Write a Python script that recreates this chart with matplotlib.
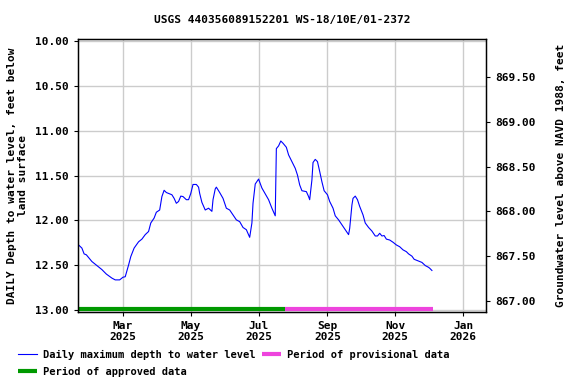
import matplotlib
matplotlib.use("Agg")
import matplotlib.pyplot as plt
import matplotlib.dates as mdates
import pandas as pd

dates = ["2025-01-20","2025-01-23","2025-01-25","2025-01-27","2025-02-01","2025-02-05","2025-02-10",
"2025-02-14","2025-02-19","2025-02-22","2025-02-26","2025-03-01","2025-03-03","2025-03-06","2025-03-08",
"2025-03-11","2025-03-15","2025-03-18","2025-03-21","2025-03-24","2025-03-26","2025-03-29","2025-03-31",
"2025-04-03","2025-04-05","2025-04-07","2025-04-09","2025-04-14","2025-04-16","2025-04-18","2025-04-20",
"2025-04-22","2025-04-24","2025-04-27","2025-04-29","2025-05-01","2025-05-03","2025-05-06","2025-05-08",
"2025-05-09","2025-05-11","2025-05-14","2025-05-17","2025-05-20","2025-05-21","2025-05-23","2025-05-24",
"2025-05-27","2025-05-30","2025-06-02","2025-06-05","2025-06-08","2025-06-11","2025-06-14","2025-06-17",
"2025-06-20","2025-06-23","2025-06-25","2025-06-26","2025-06-28","2025-07-01","2025-07-04","2025-07-07",
"2025-07-10","2025-07-13","2025-07-16","2025-07-17","2025-07-19","2025-07-21","2025-07-23","2025-07-26",
"2025-07-28","2025-07-31","2025-08-03","2025-08-05","2025-08-07","2025-08-09","2025-08-13","2025-08-15",
"2025-08-16","2025-08-18","2025-08-19","2025-08-21","2025-08-23","2025-08-25","2025-08-27","2025-08-29",
"2025-09-01","2025-09-03","2025-09-06","2025-09-08","2025-09-11","2025-09-14","2025-09-17","2025-09-20",
"2025-09-21","2025-09-23","2025-09-24","2025-09-26","2025-09-28","2025-09-30","2025-10-03","2025-10-05",
"2025-10-08","2025-10-11","2025-10-14","2025-10-16","2025-10-18","2025-10-20","2025-10-22","2025-10-24",
"2025-10-27","2025-10-30","2025-11-02","2025-11-05","2025-11-08","2025-11-11","2025-11-13","2025-11-16",
"2025-11-18","2025-11-21","2025-11-25","2025-11-28","2025-12-01","2025-12-02","2025-12-04"]
depth = [12.275,12.31,12.375,12.385,12.46,12.50,12.55,
12.60,12.645,12.665,12.665,12.635,12.63,12.50,12.405,
12.31,12.24,12.21,12.16,12.125,12.03,11.975,11.91,
11.885,11.735,11.665,11.69,11.715,11.755,11.81,11.79,
11.73,11.735,11.77,11.77,11.70,11.60,11.60,11.63,
11.70,11.80,11.885,11.865,11.90,11.77,11.65,11.63,
11.69,11.755,11.865,11.885,11.94,11.995,12.015,12.08,
12.105,12.19,12.03,11.81,11.595,11.54,11.64,11.705,
11.77,11.865,11.95,11.20,11.17,11.115,11.14,11.185,
11.27,11.345,11.42,11.495,11.605,11.67,11.68,11.735,
11.77,11.55,11.355,11.32,11.345,11.455,11.57,11.67,
11.715,11.79,11.865,11.95,11.995,12.05,12.105,12.16,
12.09,11.83,11.755,11.73,11.77,11.845,11.94,12.03,
12.08,12.12,12.175,12.175,12.145,12.175,12.17,12.21,
12.22,12.245,12.275,12.295,12.33,12.35,12.375,12.40,
12.435,12.45,12.47,12.505,12.525,12.535,12.56]

approved_period = ["2025-01-20", "2025-07-25"]
provisional_period = ["2025-07-25", "2025-12-05"]
datum = 879.9

tick_dates = ["2025-03-01","2025-05-01","2025-07-01","2025-09-01","2025-11-01","2026-01-01"]
tick_labels = ["Mar\n2025","May\n2025","Jul\n2025","Sep\n2025","Nov\n2025","Jan\n2026"]
left_ticks = [10.0, 10.5, 11.0, 11.5, 12.0, 12.5, 13.0]
right_ticks = [867.0, 867.5, 868.0, 868.5, 869.0, 869.5]

font = "DejaVu Sans Mono"
plt.rcParams['font.family'] = font
plt.rcParams['font.weight'] = 'bold'

fig = plt.figure(figsize=(5.76, 3.84), dpi=100)
ax = fig.add_axes([78/576, 1-311.7/384, 408/576, (311.7-39.3)/384])

d = pd.to_datetime(dates)
ax.plot(d, depth, color="#0000ff", lw=0.8, label="Daily maximum depth to water level")
bar_y = 12.985
ax.plot(pd.to_datetime(approved_period), [bar_y, bar_y], color="#009900", lw=3.0,
        solid_capstyle="butt", label="Period of approved data")
ax.plot(pd.to_datetime(provisional_period), [bar_y, bar_y], color="#ee44dd", lw=3.0,
        solid_capstyle="butt", label="Period of provisional data")

ax.set_xlim(pd.Timestamp("2025-01-19 12:00"), pd.Timestamp("2026-01-21 16:00"))
ymin, ymax = 9.98, 13.02
ax.set_ylim(ymax, ymin)
ax.set_yticks(left_ticks)
ax.set_yticklabels([f"{v:.2f}" for v in left_ticks], fontsize=8, fontweight='bold')
ax.set_xticks(pd.to_datetime(tick_dates))
ax.set_xticklabels(tick_labels, fontsize=8, fontweight='bold')
ax.grid(True, color="#cccccc", lw=1)
ax.set_axisbelow(True)
ax.tick_params(axis='both', length=3, width=0.8)
for s in ax.spines.values():
    s.set_linewidth(1)
ax.set_ylabel("DAILY Depth to water level, feet below\nland surface", fontsize=8, fontweight='bold', labelpad=5)

ax2 = ax.twinx()
ax2.set_ylim(datum - ymax, datum - ymin)
ax2.set_yticks(right_ticks)
ax2.set_yticklabels([f"{v:.2f}" for v in right_ticks], fontsize=8, fontweight='bold')
ax2.tick_params(axis='y', length=3, width=0.8)
ax2.set_ylabel("Groundwater level above NAVD 1988, feet", fontsize=8, fontweight='bold', labelpad=15)

ax.set_title("USGS 440356089152201 WS-18/10E/01-2372", fontsize=8, fontweight='bold', pad=12)

h, l = ax.get_legend_handles_labels()
fig.legend(h, l, loc="lower left", bbox_to_anchor=(0.015, -0.005), ncol=2, frameon=False,
           handlelength=1.8, handletextpad=0.6, columnspacing=0.6, labelspacing=0.65,
           prop={'family': font, 'weight': 'bold', 'size': 7.5})

fig.savefig("out.png", dpi=100)
